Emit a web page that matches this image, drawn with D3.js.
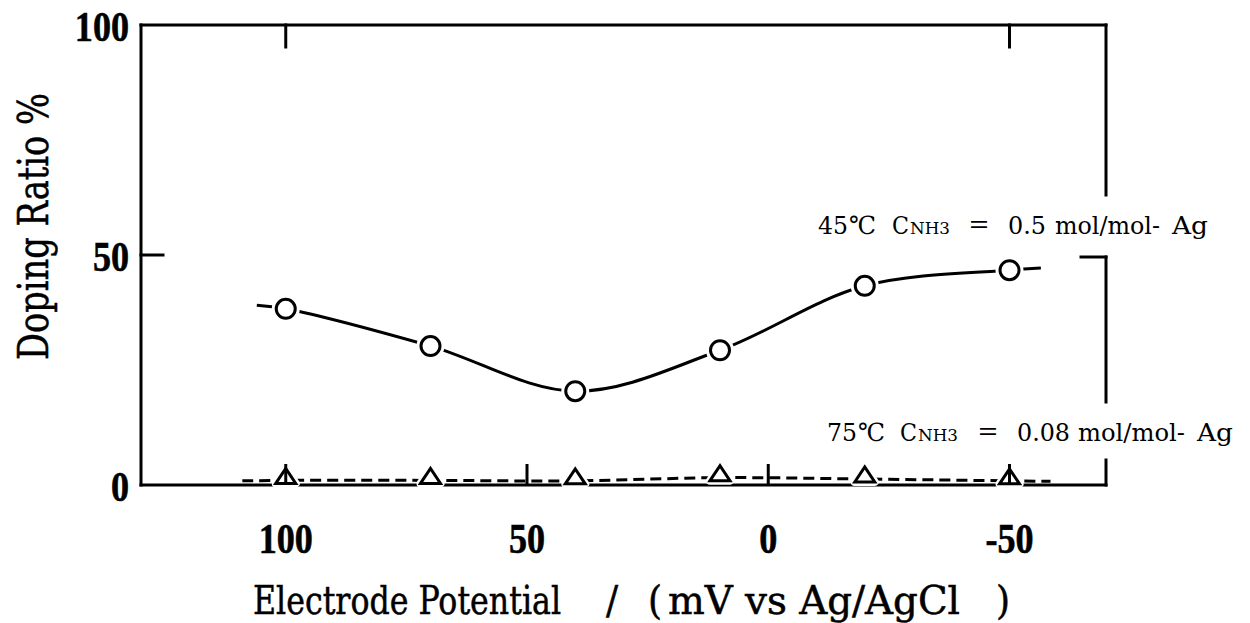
<!DOCTYPE html>
<html>
<head>
<meta charset="utf-8">
<script src="https://cdn.jsdelivr.net/npm/d3@7"></script>
<style>
  html, body { margin: 0; padding: 0; background: #fff; }
  svg { display: block; }
</style>
</head>
<body>
<svg id="chart" width="1250" height="623"></svg>
<script>
// ---------- data ----------
const potentials = [100, 70, 40, 10, -20, -50];          // mV vs Ag/AgCl
const ratio45 = [38.3, 30.2, 20.4, 29.3, 43.3, 46.7];     // 45℃, CNH3 = 0.5
const ratio75 = [1.0, 1.0, 0.9, 1.6, 1.3, 0.9];          // 75℃, CNH3 = 0.08
const curve45Ends = [[106, 39.1], [-56.5, 47.2]];        // drawn curve extends a bit past the data
const curve75Ends = [[109, 0.9], [-58.5, 0.8]];
const xTickValues = [100, 50, 0, -50];
const xTickLabels = ["100", "50", "0", "-50"];
const yTickValues = [100, 50, 0];
const yTickLabels = ["100", "50", "0"];
const xDomain = [130, -70];
const yDomain = [0, 100];

// ---------- layout ----------
const svg = d3.select("#chart");
const x = d3.scaleLinear().domain(xDomain).range([141, 1106]);
const y = d3.scaleLinear().domain(yDomain).range([485, 25]);
const ink = "#000";
const SW = 3;

// frame
const L = x(xDomain[0]), R = x(xDomain[1]), T = y(100), B = y(0);
const frame = svg.append("g").attr("stroke", ink).attr("stroke-width", SW)
  .attr("fill", "none").attr("stroke-linecap", "square");
frame.append("line").attr("x1", L).attr("x2", R).attr("y1", T).attr("y2", T);
frame.append("line").attr("x1", L).attr("x2", R).attr("y1", B).attr("y2", B);
frame.append("line").attr("x1", L).attr("x2", L).attr("y1", T).attr("y2", B);
// right spine is interrupted where the labels sit
[[T, 195], [y(50) + 2, 402], [460, B]].forEach(([a, b]) =>
  frame.append("line").attr("x1", R).attr("x2", R).attr("y1", a).attr("y2", b));

// ticks (inward)
[100, -50].forEach(v => frame.append("line")
  .attr("x1", x(v)).attr("x2", x(v)).attr("y1", T).attr("y2", T + 22));
frame.append("line").attr("x1", L).attr("x2", L + 22).attr("y1", y(50)).attr("y2", y(50));
frame.append("line").attr("x1", R - 25).attr("x2", R).attr("y1", y(50) + 2).attr("y2", y(50) + 2);

// ---------- series ----------
const pts45 = [curve45Ends[0], ...potentials.map((p, i) => [p, ratio45[i]]), curve45Ends[1]];
const pts75 = [curve75Ends[0], ...potentials.map((p, i) => [p, ratio75[i]]), curve75Ends[1]];
const line = d3.line().x(d => x(d[0])).y(d => y(d[1])).curve(d3.curveCatmullRom.alpha(0.5));

svg.append("path").attr("d", line(pts45)).attr("fill", "none")
  .attr("stroke", ink).attr("stroke-width", SW);
svg.append("path").attr("d", line(pts75)).attr("fill", "none")
  .attr("stroke", ink).attr("stroke-width", SW).attr("stroke-dasharray", "11,6");

// circles with white halo
const circ = svg.append("g").selectAll("g").data(potentials.map((p, i) => [p, ratio45[i]]))
  .join("g").attr("transform", d => `translate(${x(d[0])},${y(d[1])})`);
circ.append("circle").attr("r", 14).attr("fill", "#fff");
circ.append("circle").attr("r", 9.5).attr("fill", "#fff").attr("stroke", ink).attr("stroke-width", SW);

// triangles with white halo
const tri = "M-10,3 L0,-12 L10,3 Z";
const trg = svg.append("g").selectAll("g").data(potentials.map((p, i) => [p, ratio75[i]]))
  .join("g").attr("transform", d => `translate(${x(d[0])},${y(d[1])})`);
trg.append("path").attr("d", tri).attr("fill", "#fff").attr("stroke", "#fff").attr("stroke-width", 8)
  .attr("stroke-linejoin", "round");
trg.append("path").attr("d", tri).attr("fill", "#fff").attr("stroke", ink).attr("stroke-width", SW)
  .attr("stroke-linejoin", "miter");

// bottom ticks drawn on top (inward)
xTickValues.forEach(v => svg.append("line").attr("stroke", ink).attr("stroke-width", SW)
  .attr("x1", x(v)).attr("x2", x(v)).attr("y1", B).attr("y2", B - 21));

// ---------- tick labels ----------
const numFont = "'Liberation Serif', 'Times New Roman', serif";
xTickValues.forEach((v, i) => svg.append("text")
  .attr("transform", `translate(${x(v)},553) scale(0.86,1)`)
  .attr("text-anchor", "middle").attr("font-family", numFont).attr("font-weight", "bold")
  .attr("font-size", 42).attr("fill", ink).attr("stroke", ink).attr("stroke-width", 0.6)
  .text(xTickLabels[i]));
yTickValues.forEach((v, i) => svg.append("text")
  .attr("transform", `translate(129,${y(v) + 16}) scale(0.86,1)`)
  .attr("text-anchor", "end").attr("font-family", numFont).attr("font-weight", "bold")
  .attr("font-size", 42).attr("fill", ink).attr("stroke", ink).attr("stroke-width", 0.6)
  .text(yTickLabels[i]));

// ---------- axis titles ----------
const titleFont = "'DejaVu Serif', serif";
svg.append("text")
  .attr("transform", "translate(48,360) rotate(-90)")
  .attr("text-anchor", "start").attr("font-family", titleFont).attr("font-size", 43)
  .attr("font-stretch", "condensed")
  .attr("textLength", 267).attr("lengthAdjust", "spacingAndGlyphs")
  .attr("fill", ink).attr("stroke", ink).attr("stroke-width", 0.5).text("Doping Ratio %");

const xt = svg.append("text").attr("y", 614).attr("font-family", titleFont).attr("font-size", 40)
  .attr("font-stretch", "condensed").attr("fill", ink).attr("stroke", ink).attr("stroke-width", 0.5);
xt.append("tspan").attr("x", 253).attr("textLength", 308).attr("lengthAdjust", "spacingAndGlyphs")
  .text("Electrode Potential");
xt.append("tspan").attr("x", 606).text("/");
xt.append("tspan").attr("x", 648).text("(");
xt.append("tspan").attr("x", 668).attr("textLength", 292).attr("lengthAdjust", "spacingAndGlyphs")
  .text("mV vs Ag/AgCl");
xt.append("tspan").attr("x", 996).text(")");

// ---------- series labels ----------
const lblFont = "'DejaVu Serif', serif";
function seriesLabel(yBase, parts) {
  const t = svg.append("text").attr("y", yBase).attr("font-family", lblFont)
    .attr("font-size", 25).attr("fill", ink);
  parts.forEach(p => {
    const s = t.append("tspan").attr("x", p.x).text(p.t);
    if (p.small) s.attr("font-size", 17);
    if (p.ff) s.attr("font-family", p.ff);
    if (p.w) s.attr("textLength", p.w).attr("lengthAdjust", "spacingAndGlyphs");
  });
}
seriesLabel(234, [
  {x: 818, t: "45", w: 30}, {x: 849, t: "℃", w: 27},
  {x: 892, t: "C", w: 17}, {x: 910, t: "NH3", small: true, w: 40},
  {x: 968, t: "＝", ff: "'Noto Sans CJK JP', sans-serif", w: 22},
  {x: 1008, t: "0.5", w: 38}, {x: 1055, t: "mol/mol-", w: 105}, {x: 1172, t: "Ag", w: 36}
]);
seriesLabel(441, [
  {x: 827, t: "75", w: 30}, {x: 858, t: "℃", w: 27},
  {x: 900, t: "C", w: 17}, {x: 918, t: "NH3", small: true, w: 40},
  {x: 977, t: "＝", ff: "'Noto Sans CJK JP', sans-serif", w: 22},
  {x: 1017, t: "0.08", w: 53}, {x: 1078, t: "mol/mol-", w: 107}, {x: 1197, t: "Ag", w: 36}
]);
</script>
</body>
</html>
